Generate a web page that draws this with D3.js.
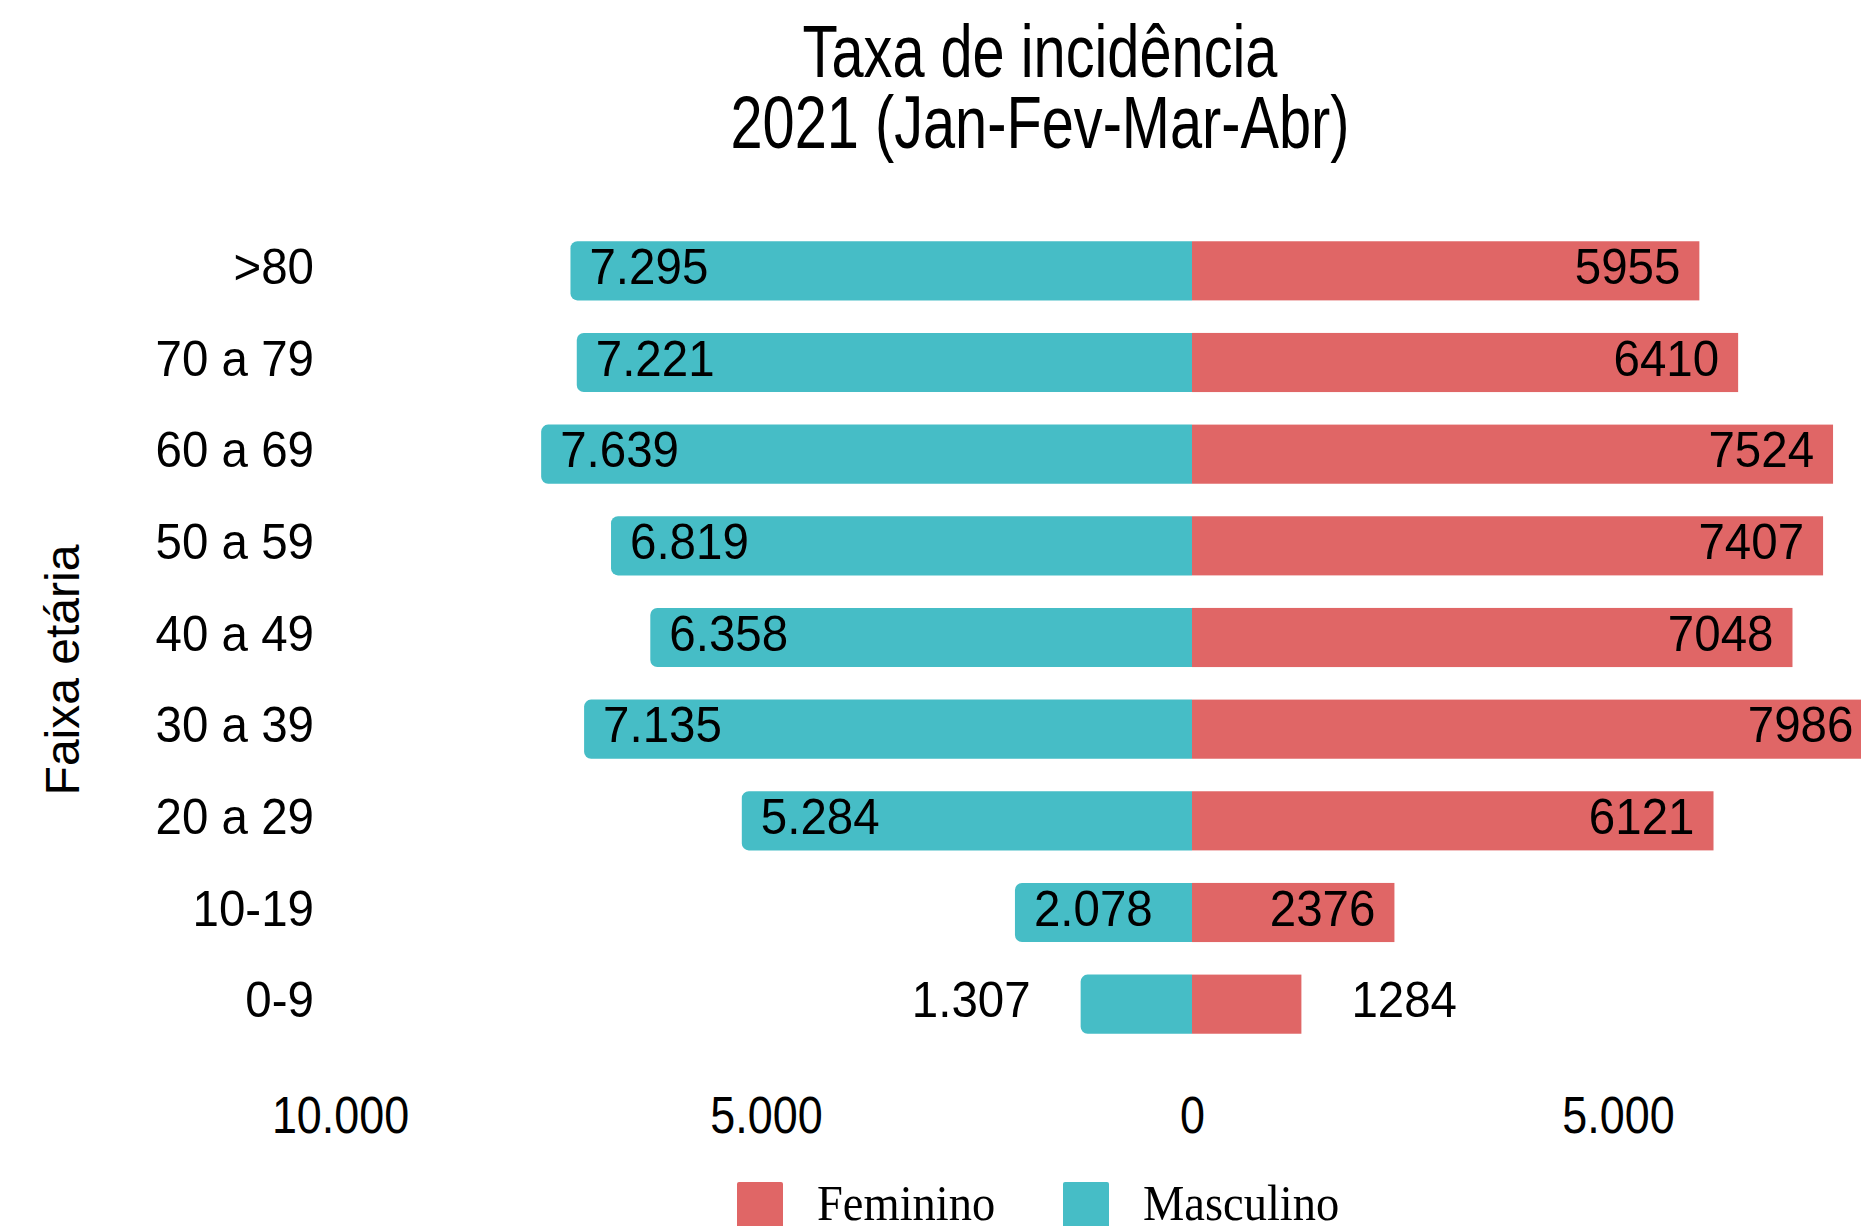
<!DOCTYPE html>
<html>
<head>
<meta charset="utf-8">
<script src="https://cdn.jsdelivr.net/npm/d3@7"></script>
<style>
  html, body { margin: 0; padding: 0; background: #ffffff; }
  svg { display: block; }
  text { font-family: "Liberation Sans", Arial, Helvetica, sans-serif; fill: #000; }
</style>
</head>
<body>
<svg id="chart" width="1861" height="1226"></svg>
<script>
// Age groups, top to bottom
const faixas = [">80", "70 a 79", "60 a 69", "50 a 59", "40 a 49", "30 a 39", "20 a 29", "10-19", "0-9"];
// Incidence rate by sex
const masculino = [7295, 7221, 7639, 6819, 6358, 7135, 5284, 2078, 1307];
const feminino  = [5955, 6410, 7524, 7407, 7048, 7986, 6121, 2376, 1284];
// Axis ticks (left side shows absolute values)
const ticks = [-10000, -5000, 0, 5000];
const legendItems = ["Feminino", "Masculino"];

const W = 1861, H = 1226;
const corFem = "#E06666";
const corMasc = "#46BDC6";

const ptBR = d3.formatLocale({ decimal: ",", thousands: ".", grouping: [3], currency: ["R$ ", ""] });
const fmtMil = ptBR.format(",d");
const fmtInt = d3.format("d");

const svg = d3.select("#chart");

const x = d3.scaleLinear().domain([-10000, 10000]).range([340, 2044]);
const y = d3.scaleBand().domain(faixas).range([225, 1050]).paddingInner(0.355).paddingOuter(0.1775);
const bw = y.bandwidth();

const clip = svg.append("defs").append("clipPath").attr("id", "area")
  .append("rect").attr("x", 0).attr("y", 0).attr("width", W).attr("height", H);

// Horizontally condensed text helper
function label(g, tx, ty, txt, opts) {
  const o = Object.assign({ size: 50, sx: 0.95, anchor: "start", family: null }, opts || {});
  const t = g.append("g").attr("transform", `translate(${tx},${ty}) scale(${o.sx},1)`)
    .append("text")
    .attr("x", 0).attr("y", 0)
    .attr("text-anchor", o.anchor)
    .style("font-size", o.size + "px")
    .text(txt);
  if (o.family) t.style("font-family", o.family);
  return t;
}

// Title
const title = svg.append("g");
label(title, 1040, 77, "Taxa de incidência", { size: 74, sx: 0.78, anchor: "middle" });
label(title, 1040, 148, "2021 (Jan-Fev-Mar-Abr)", { size: 74, sx: 0.78, anchor: "middle" });

// Y-axis title
svg.append("g").attr("transform", "translate(79,670) rotate(-90)")
  .append("text").attr("text-anchor", "middle").style("font-size", "48px").text("Faixa etária");

// Row labels
const rows = svg.append("g");
faixas.forEach(f => {
  label(rows, 314, y(f) + bw / 2 + 13, f, { size: 50, sx: 0.95, anchor: "end" });
});

// Bars
const bars = svg.append("g").attr("clip-path", "url(#area)");
const r = 7;
faixas.forEach((f, i) => {
  const y0 = y(f), x0 = x(0);
  // male bar: rounded outer (left) corners
  const xl = x(-masculino[i]);
  const p = d3.path();
  p.moveTo(x0, y0);
  p.lineTo(xl + r, y0);
  p.arcTo(xl, y0, xl, y0 + r, r);
  p.lineTo(xl, y0 + bw - r);
  p.arcTo(xl, y0 + bw, xl + r, y0 + bw, r);
  p.lineTo(x0, y0 + bw);
  p.closePath();
  bars.append("path").attr("d", p.toString()).attr("fill", corMasc);
  // female bar
  bars.append("rect")
    .attr("x", x0).attr("y", y0)
    .attr("width", x(feminino[i]) - x0).attr("height", bw)
    .attr("fill", corFem);
});

// Value labels: inside the bar when it fits, otherwise outside
const vals = svg.append("g");
const pad = 19, gap = 50, sxv = 0.95;
faixas.forEach((f, i) => {
  const cy = y(f) + bw / 2 + 13;
  const x0 = x(0);
  // male
  const tm = fmtMil(masculino[i]);
  const xl = x(-masculino[i]);
  const probe = label(vals, -1000, -1000, tm, { size: 50, sx: sxv });
  const wm = probe.node().getComputedTextLength() * sxv;
  probe.node().parentNode.remove();
  if (x0 - xl >= wm + 2 * pad) {
    label(vals, xl + pad, cy, tm, { size: 50, sx: sxv, anchor: "start" });
  } else {
    label(vals, xl - gap, cy, tm, { size: 50, sx: sxv, anchor: "end" });
  }
  // female
  const tf = fmtInt(feminino[i]);
  const xr = x(feminino[i]);
  const probe2 = label(vals, -1000, -1000, tf, { size: 50, sx: sxv });
  const wf = probe2.node().getComputedTextLength() * sxv;
  probe2.node().parentNode.remove();
  if (xr - x0 >= wf + 2 * pad) {
    label(vals, xr - pad, cy, tf, { size: 50, sx: sxv, anchor: "end" });
  } else {
    label(vals, xr + gap, cy, tf, { size: 50, sx: sxv, anchor: "start" });
  }
});

// X axis (labels only, no line or tick marks)
const axis = d3.axisBottom(x).tickValues(ticks).tickSize(0).tickFormat(d => fmtMil(Math.abs(d)));
const ax = svg.append("g").attr("transform", "translate(0,1094)").call(axis);
ax.select(".domain").remove();
ax.selectAll(".tick text")
  .attr("y", 0).attr("dy", "0.76em")
  .style("font-size", "51px")
  .style("font-family", "\"Liberation Sans\", Arial, sans-serif")
  .attr("fill", "#000")
  .attr("transform", "scale(0.88,1)");

// Legend
const leg = svg.append("g");
const legX = [737, 1063];
const legC = [corFem, corMasc];
legendItems.forEach((name, i) => {
  leg.append("rect").attr("x", legX[i]).attr("y", 1182).attr("width", 46).attr("height", 46)
    .attr("rx", 2).attr("fill", legC[i]);
  label(leg, legX[i] + 80, 1220, name, { size: 50, sx: 0.93, anchor: "start", family: "\"Liberation Serif\", \"Times New Roman\", serif" });
});
</script>
</body>
</html>
